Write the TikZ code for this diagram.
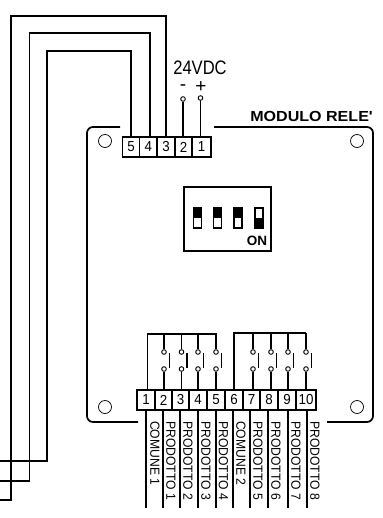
\documentclass[tikz,border=0pt]{standalone}
\usepackage{fontspec}
\setmainfont{Liberation Sans}
\newfontfamily\narrowa[FakeStretch=0.85]{Liberation Sans}
\newfontfamily\narrowb[FakeStretch=0.92]{Liberation Sans}
\newfontfamily\wideb[FakeStretch=1.1]{Liberation Sans}
\tikzset{
  wire/.style={line width=1.7pt,line join=miter},
  board/.style={line width=1.7pt},
  hole/.style={circle,draw,line width=0.7pt,minimum size=13pt,inner sep=0pt},
  term/.style={draw,line width=1.7pt,minimum height=20pt,inner sep=0pt,font=\narrowb\fontsize{14.5pt}{15pt}\selectfont},
  pin/.style={circle,draw,fill=white,line width=0.9pt,minimum size=4.6pt,inner sep=0pt},
  lab/.style={rotate=-90,anchor=west,inner sep=0pt,font=\narrowb\fontsize{13.2pt}{14pt}\selectfont},
  toggle/.style={draw,line width=1.5pt,minimum width=8pt,minimum height=20pt,inner sep=0pt}
}
\begin{document}
\begin{tikzpicture}[x=1pt,y=-1pt]
\useasboundingbox (0,0) rectangle (382,518);
% board
\draw[board,rounded corners=6pt] (120,127) -- (87,127) -- (87,422) -- (138,422);
\draw[board,rounded corners=6pt] (214,127) -- (373,127) -- (373,422) -- (327,422);
\node[hole] (h1) at (105,141) {};
\node[hole] (h2) at (357,141) {};
\node[hole] (h3) at (105,407) {};
\node[hole] (h4) at (357,407) {};
% top terminal
\foreach \n/\c/\w in {5/131/17,4/148.3/17.6,3/166/17.8,2/183.5/17.2,1/201.5/18.4}
  \node[term,minimum width=\w pt] (t\n) at (\c,147) {\n};
% bottom terminal
\foreach \n/\c/\w in {1/146/18,2/163.5/17,3/180.5/17,4/198/18,5/216/18,6/234/18,7/251.5/17,8/269/18,9/287/18,10/306/20}
  \node[term,minimum width=\w pt] (b\n) at (\c,400) {\n};
% incoming wires
\coordinate (e5) at (0,461);
\coordinate (e4) at (0,481);
\coordinate (e3) at (0,500);
\draw[wire] (t5.north) -- (131,51) -- (47,51) -- (47,461) -- (e5);
\draw[wire] ([xshift=1.7pt]t4.north) -- (150,33) -- (29.5,33) -- (29.5,481) -- (e4);
\draw[wire] (t3.north) -- (166,16) -- (11,16) -- (11,500) -- (e3);
% 24 VDC
\node[inner sep=0pt,font=\narrowa\fontsize{19.5pt}{20pt}\selectfont] (vdc) at (200,68) {24VDC};
\node[inner sep=0pt,font=\fontsize{19pt}{20pt}\selectfont] (minus) at (183,88) {-};
\node[inner sep=0pt,font=\fontsize{19pt}{20pt}\selectfont] (plus) at (201,87) {+};
\node[pin] (pm) at (183,99) {};
\node[pin] (pp) at (200.5,98) {};
\draw[wire] (pm) -- (pm |- t2.north);
\draw[wire] (pp) -- (pp |- t1.north);
\node[anchor=east,inner sep=0pt,font=\wideb\fontsize{14.6pt}{15pt}\selectfont\bfseries] (title) at (373,116) {MODULO RELE'};
% DIP switch
\node[draw,line width=1.7pt,minimum width=87pt,minimum height=63.5pt,inner sep=0pt] (dip) at (227.5,219) {};
\foreach \i/\c in {1/197.5,2/217.5,3/238,4/259}
  \node[toggle] (s\i) at (\c,218) {};
\foreach \i in {1,2,3}
  \fill (s\i.north west) rectangle (s\i.east);
\fill (s4.west) rectangle (s4.south east);
\node[inner sep=0pt,font=\fontsize{13.5pt}{14pt}\selectfont\bfseries] (on) at (257,241) {ON};
% relay contacts
\draw[wire] (147.5,389) -- (147.5,334) -- (217,334);
\draw[wire] (b6.north) -- (234,333) -- (306,333);
\foreach \n/\c/\y in {2/164/334,3/181.5/334,4/198/334,5/216/334,7/253/333,8/271/333,9/288/333,10/306/333}{
  \node[pin] (u\n) at (\c,352) {};
  \node[pin] (l\n) at (\c,369) {};
  \draw[wire] (\c,\y) -- (u\n);
  \draw[wire] (l\n) -- (\c,389);
  \draw[wire] (\c+5.5,353) -- (\c+5.5,368);
}
% output wires and labels
\foreach \n/\c/\l/\t in {1/146/155/COMUNE 1,2/163/171/PRODOTTO 1,3/180/188/PRODOTTO 2,4/198/206/PRODOTTO 3,5/216/223.5/PRODOTTO 4,6/233/241/COMUNE 2,7/250/258/PRODOTTO 5,8/268/276/PRODOTTO 6,9/288/296/PRODOTTO 7,10/307/315/PRODOTTO 8}{
  \coordinate (w\n) at (\c,508);
  \draw[wire] (\c,411) -- (w\n);
  \node[lab] (n\n) at (\l,421) {\t};
}
\end{tikzpicture}
\end{document}
